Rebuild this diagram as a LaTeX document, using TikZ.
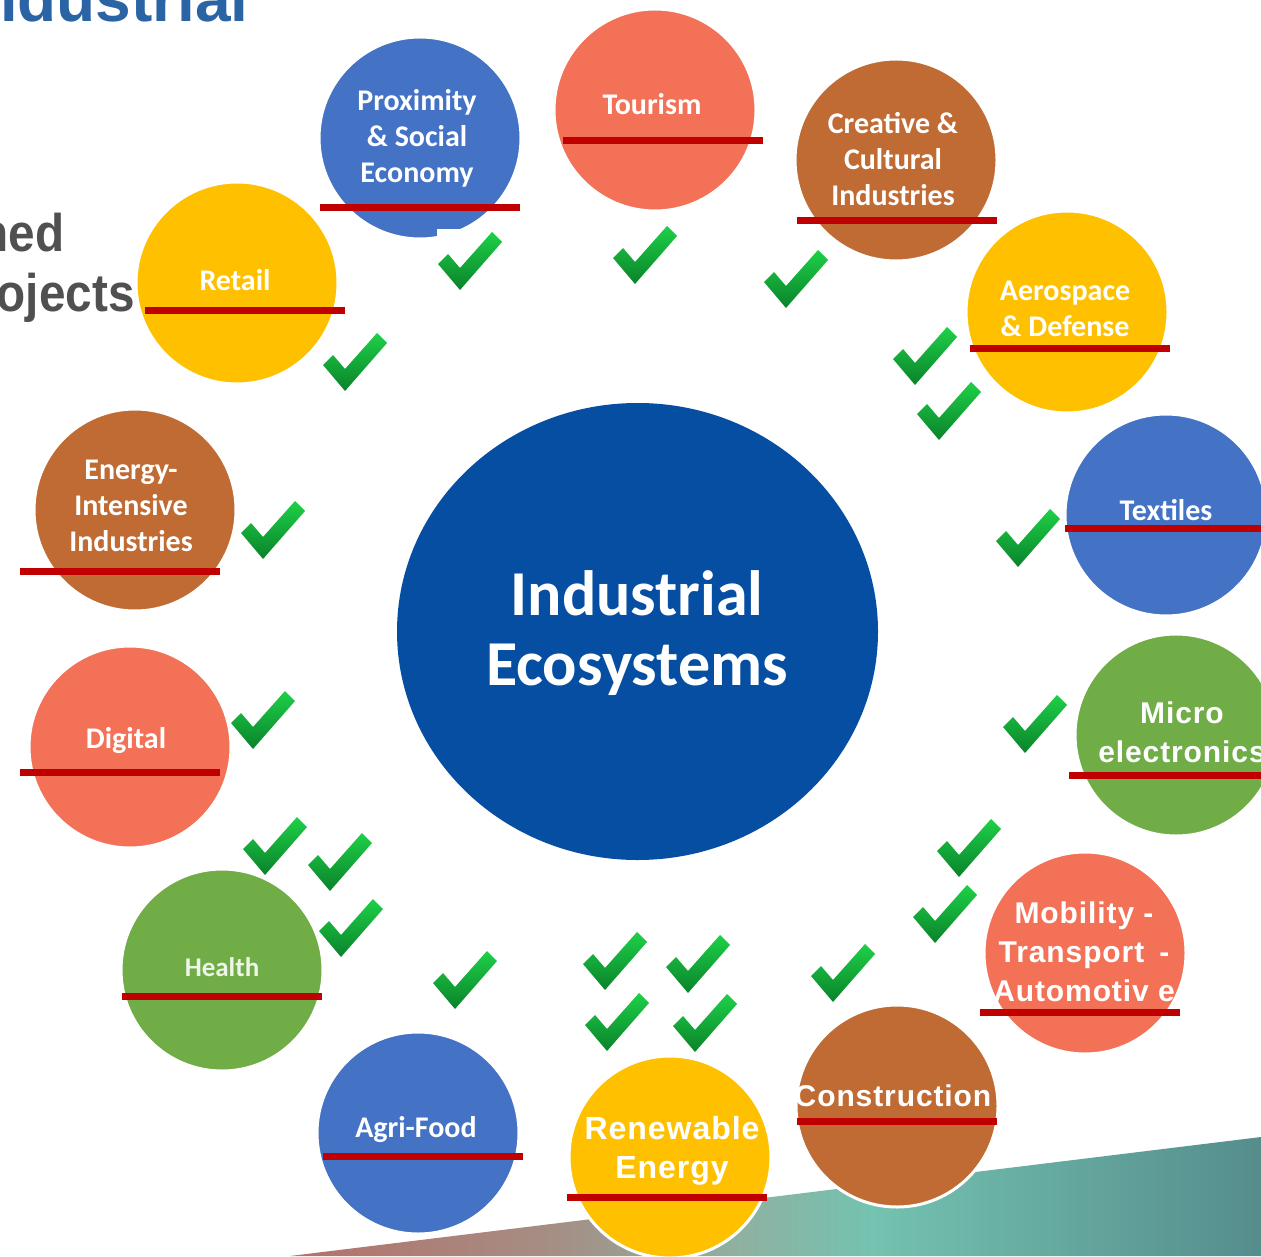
\documentclass[tikz,border=0pt]{standalone}
\usepackage{fontspec}
\usetikzlibrary{shapes.geometric}
\setmainfont{Carlito}
\newfontfamily\arialf{Liberation Sans}
\newfontfamily\arialw{Liberation Sans}[LetterSpace=3]
\newfontfamily\arialn{Liberation Sans}[FakeStretch=0.9]
\definecolor{cblue}{HTML}{4472C4}
\definecolor{csalmon}{HTML}{F37157}
\definecolor{cbrown}{HTML}{BF6B33}
\definecolor{cyellow}{HTML}{FFC000}
\definecolor{cgreen}{HTML}{70AD47}
\definecolor{cdark}{HTML}{054EA1}
\definecolor{cred}{HTML}{C00000}
\definecolor{ctitle}{HTML}{2A64A4}
\definecolor{cgray}{HTML}{505050}
\definecolor{tickT}{HTML}{1ED048}
\definecolor{tickB}{HTML}{0A822A}
\definecolor{bandA}{HTML}{B4716A}
\definecolor{bandB}{HTML}{A58E84}
\definecolor{bandC}{HTML}{8DB2A2}
\definecolor{bandD}{HTML}{74C2B0}
\definecolor{bandE}{HTML}{558D8D}
\pgfdeclarehorizontalshading{bandshade}{100bp}{color(0bp)=(bandA); color(25bp)=(bandA); color(38.5bp)=(bandB); color(48.5bp)=(bandC); color(55bp)=(bandD); color(75bp)=(bandE); color(100bp)=(bandE)}
\tikzset{
  eco/.style={circle, inner sep=0pt, minimum size=101pt, draw=white, line width=1.5pt},
  barred/.style={fill=cred},
  lbl/.style={text=white, inner sep=0pt, align=center, font=\bfseries\fontsize{15}{18}\selectfont},
  albl/.style={text=white, inner sep=0pt, align=center, font=\arialw\bfseries\fontsize{15}{19.5}\selectfont},
  chk/.pic={\shade[top color=tickT, bottom color=tickB] (-32,3) -- (-22,-7) -- (-10,7) -- (22,-29) -- (32,-19) -- (-10,29) -- cycle;}
}
\begin{document}
\begin{tikzpicture}[x=0.5pt,y=-0.5pt]
\useasboundingbox (0,0) rectangle (1261,1256);
\clip (0,0) rectangle (1261,1256);
\fill[white] (0,0) rectangle (1261,1256);
% background band
\shade[shading=bandshade] (290,1256) -- (1261,1137) -- (1261,1256) -- cycle;
% partial title texts
\node[anchor=base east, inner sep=0pt, text=ctitle, font=\arialf\bfseries\fontsize{32}{38}\selectfont] (ttl) at (249,22) {Industrial};
\node[anchor=base east, inner sep=0pt, text=cgray, font=\arialn\bfseries\fontsize{26.5}{32}\selectfont] (pl) at (65,252) {Planned};
\node[anchor=base east, inner sep=0pt, text=cgray, font=\arialn\bfseries\fontsize{26.5}{32}\selectfont] (pj) at (135,312) {projects};
% centre
\node[ellipse, inner sep=0pt, minimum width=240.5pt, minimum height=228.5pt, fill=cdark] (ctr) at (637.5,631.5) {};
\node[text=white, align=center, inner sep=0pt, font=\bfseries\fontsize{32}{35}\selectfont] (ctrt) at (637,633) {Industrial\\Ecosystems};
% ecosystem circles
\node[eco, fill=cblue] (prox) at (420,138) {};
\node[eco, fill=csalmon] (tour) at (655,110) {};
\node[eco, fill=cbrown] (crea) at (896,160) {};
\node[eco, fill=cyellow] (aero) at (1067,312) {};
\node[eco, fill=cblue] (text) at (1166,515) {};
\node[eco, fill=cgreen] (micro) at (1176,735) {};
\node[eco, fill=csalmon] (mobi) at (1085,953) {};
\node[eco, fill=cbrown] (cons) at (897,1106) {};
\node[eco, fill=cyellow] (renew) at (670,1157) {};
\node[eco, fill=cblue] (agri) at (418,1133) {};
\node[eco, fill=cgreen] (health) at (222,970) {};
\node[eco, fill=csalmon] (digi) at (130,747) {};
\node[eco, fill=cbrown] (energy) at (135,510) {};
\node[eco, fill=cyellow] (retail) at (237,283) {};
% red bars
\path[barred] (320,204.5) rectangle (520,211.5);
\path[barred] (563,137.5) rectangle (763,144.5);
\path[barred] (797,217.5) rectangle (997,224.5);
\path[barred] (970,345.5) rectangle (1170,352.5);
\path[barred] (1065,524.5) rectangle (1261,531.5);
\path[barred] (1069,771.5) rectangle (1261,778.5);
\path[barred] (980,1008.5) rectangle (1180,1015.5);
\path[barred] (797,1117.5) rectangle (997,1124.5);
\path[barred] (567,1193.5) rectangle (767,1200.5);
\path[barred] (323,1152.5) rectangle (523,1159.5);
\path[barred] (122,992.5) rectangle (322,999.5);
\path[barred] (20,768.5) rectangle (220,775.5);
\path[barred] (20,567.5) rectangle (220,574.5);
\path[barred] (145,307.5) rectangle (345,314.5);
% labels
\node[lbl] (proxt) at (417,138) {Proximity\\\& Social\\Economy};
\node[lbl] (tourt) at (652,104) {Tourism};
\node[lbl] (creat) at (893,159) {Creative \&\\Cultural\\Industries};
\node[lbl] (aerot) at (1065,309) {Aerospace\\\& Defense};
\node[lbl] (textt) at (1166,510) {Textiles};
\node[albl] (microt) at (1182,732) {Micro\\electronics};
\node[albl] (mobit) at (1084,952) {Mobility -\\Transport\enspace-\\Automotiv e};
\node[albl] (const) at (893,1096) {Construction};
\node[albl, font=\arialw\bfseries\fontsize{16}{19.5}\selectfont] (renewt) at (672,1151) {Renewable\\Energy};
\node[lbl] (agrit) at (416,1130) {Agri-Food};
\node[lbl, text=white!88!cgreen, font=\bfseries\fontsize{13.5}{16}\selectfont] (healtht) at (222,967) {Health};
\node[lbl] (digit) at (126,741) {Digital};
\node[lbl] (energyt) at (131,506) {Energy-\\Intensive\\Industries};
\node[lbl] (retailt) at (235,280) {Retail};
% white box of the tick picture over the Proximity circle
\fill[white] (437,229) rectangle (510,245);
% check marks
\foreach \p/\q in {470/261, 645/255, 796/279, 925/356, 949/411, 1028/538, 1035/724,
  969/848, 945/914, 843/973, 615/961, 698/964, 617/1022, 705/1023, 465/980,
  275/846, 340/862, 351/928, 263/720, 273/530, 355/362}
  \pic at (\p,\q) {chk};
\end{tikzpicture}
\end{document}
